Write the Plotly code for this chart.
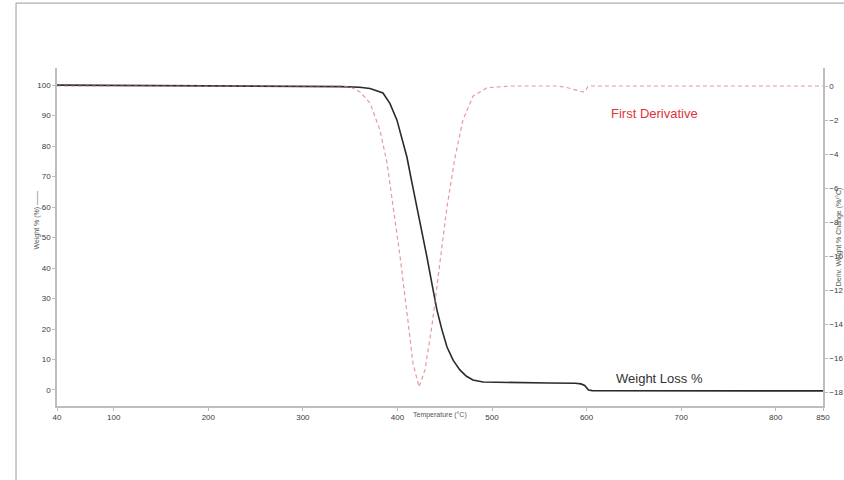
import plotly.graph_objects as go

# Weight loss curve (left axis, %)
temp_w = [40, 150, 250, 340, 360, 371, 384.7, 392, 399.5, 405, 410, 415, 420.7, 426, 431.2,
          436.5, 441.8, 447, 452.4, 459, 466, 473, 479.9, 490.5, 520, 560, 588, 594, 598,
          600, 602, 606, 700, 850]
weight = [100, 99.9, 99.8, 99.5, 99.3, 98.9, 97.4, 94, 88.5, 82, 76.4, 68.5, 60, 51.5, 43.6,
          34.8, 26.2, 19.8, 14.1, 9.7, 6.6, 4.5, 3.3, 2.6, 2.4, 2.3, 2.2, 2.0, 1.5,
          0.6, 0.0, -0.2, -0.3, -0.3]

# First derivative curve (right axis)
temp_d = [40, 200, 300, 340, 350, 360.4, 371, 381.5, 388.9, 395.3, 402.7, 410, 416.4, 422.8,
          429.1, 436.5, 445, 452.4, 460.9, 469.3, 479.9, 494.7, 520, 570, 580, 590, 596,
          599, 601, 603, 700, 850]
deriv = [0, 0, 0, 0, -0.05, -0.35, -1.0, -2.6, -4.5, -7.1, -10, -13.3, -16.3, -17.7,
         -16.7, -14.1, -10.4, -7.1, -4.2, -2.0, -0.6, -0.1, 0, 0, -0.1, -0.25, -0.35,
         -0.3, -0.05, 0, 0, 0]

x_ticks = [40, 100, 200, 300, 400, 500, 600, 700, 800, 850]
y_ticks = [0, 10, 20, 30, 40, 50, 60, 70, 80, 90, 100]
y2_ticks = [0, -2, -4, -6, -8, -10, -12, -14, -16, -18]

tickfont = dict(family="Liberation Sans, Arial", size=8, color="#3a3a3a")
axcol = "#bdbdbd"
titlefont = dict(family="Liberation Sans, Arial", size=7, color="#555")

fig = go.Figure()
fig.add_trace(go.Scatter(x=temp_d, y=deriv, yaxis="y2", mode="lines",
                         line=dict(color="rgba(220,120,125,0.75)", width=1.2, dash="4px,3px"),
                         showlegend=False))
fig.add_trace(go.Scatter(x=temp_w, y=weight, mode="lines",
                         line=dict(color="#2a2a2a", width=1.6), showlegend=False))

axis_common = dict(showgrid=False, zeroline=False, showline=True, linecolor=axcol,
                   linewidth=1.5, ticks="outside", ticklen=3, tickcolor=axcol,
                   tickfont=tickfont, automargin=False)

fig.update_layout(
    width=844, height=480,
    margin=dict(l=57, r=21, t=68, b=74, autoexpand=False),
    paper_bgcolor="white", plot_bgcolor="white",
    xaxis=dict(range=[40, 850], tickvals=x_ticks, ticktext=[str(v) for v in x_ticks],
               **axis_common),
    yaxis=dict(range=[-5.25, 105.6], tickvals=y_ticks, **axis_common),
    yaxis2=dict(range=[-18.82, 1.06], tickvals=y2_ticks, overlaying="y", side="right",
                **axis_common),
    annotations=[
        dict(text="First Derivative", x=672, y=90.8, xref="x", yref="y", showarrow=False,
             font=dict(family="Liberation Sans, Arial", size=13, color="#e0343c")),
        dict(text="Weight Loss %", x=677, y=3.9, xref="x", yref="y", showarrow=False,
             font=dict(family="Liberation Sans, Arial", size=13, color="#333")),
        dict(text="Temperature (°C)", x=0.5, y=-0.044, xref="paper", yref="paper",
             showarrow=False, font=titlefont),
        dict(text="Weight % (%) ——", x=-0.0255, y=0.55, xref="paper", yref="paper",
             xanchor="center", yanchor="middle",
             textangle=-90, showarrow=False, font=titlefont),
        dict(text="Deriv. Weight % Change (%/°C)", x=1.0212, y=0.5, xref="paper", yref="paper",
             xanchor="center", yanchor="middle",
             textangle=-90, showarrow=False, font=titlefont),
    ],
    shapes=[
        dict(type="line", xref="paper", yref="paper", x0=-0.0535, x1=-0.0535, y0=1.192, y1=-0.25,
             line=dict(color="#9a9a9a", width=1)),
        dict(type="line", xref="paper", yref="paper", x0=-0.0535, x1=1.05, y0=1.192, y1=1.192,
             line=dict(color="#9a9a9a", width=1)),
    ],
)

fig.write_html("out.html")
